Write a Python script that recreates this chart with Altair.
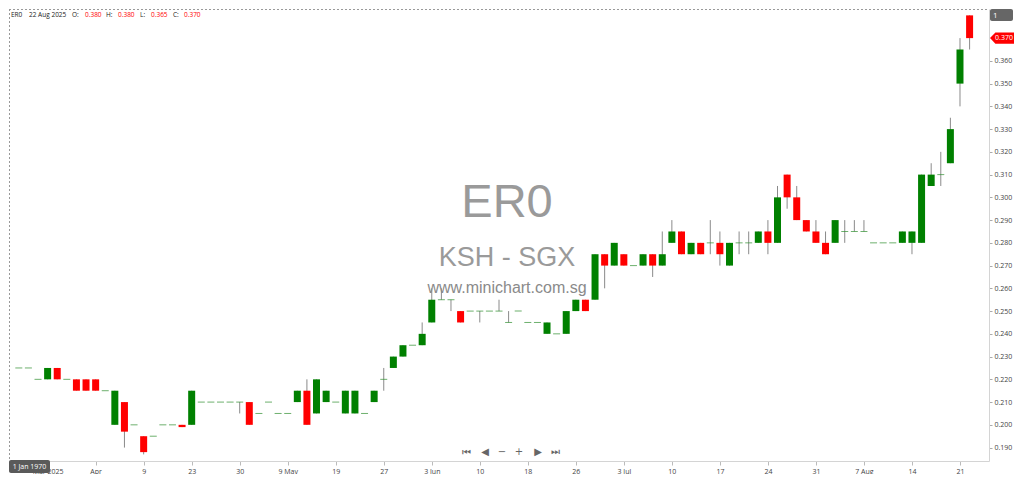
import json
import altair as alt
import pandas as pd

symbol = "ER0"
exchange = "KSH - SGX"
site = "www.minichart.com.sg"
last_date = "22 Aug 2025"
crosshair_date = "1 Jan 1970"
panel_no = "1"

opens = [0.225, 0.225, 0.220, 0.220, 0.225, 0.220, 0.220, 0.220, 0.220, 0.215,
         0.200, 0.210, 0.200, 0.195, 0.195, 0.200, 0.200, 0.200, 0.200, 0.210,
         0.210, 0.210, 0.210, 0.210, 0.210, 0.205, 0.210, 0.205, 0.205, 0.210,
         0.215, 0.205, 0.210, 0.210, 0.205, 0.205, 0.205, 0.210, 0.220, 0.225,
         0.230, 0.235, 0.235, 0.245, 0.255, 0.255, 0.250, 0.250, 0.250, 0.250,
         0.250, 0.245, 0.250, 0.245, 0.245, 0.240, 0.240, 0.240, 0.250, 0.255,
         0.255, 0.275, 0.270, 0.275, 0.270, 0.270, 0.275, 0.270, 0.280, 0.285,
         0.275, 0.280, 0.280, 0.280, 0.270, 0.280, 0.280, 0.280, 0.285, 0.280,
         0.310, 0.300, 0.290, 0.285, 0.280, 0.280, 0.285, 0.285, 0.285, 0.280,
         0.280, 0.280, 0.280, 0.280, 0.280, 0.305, 0.310, 0.315, 0.350, 0.380]
highs = [0.225, 0.225, 0.220, 0.225, 0.225, 0.220, 0.220, 0.220, 0.220, 0.215,
         0.215, 0.210, 0.200, 0.195, 0.195, 0.200, 0.200, 0.200, 0.215, 0.210,
         0.210, 0.210, 0.210, 0.210, 0.210, 0.205, 0.210, 0.205, 0.205, 0.215,
         0.220, 0.220, 0.215, 0.210, 0.215, 0.215, 0.205, 0.215, 0.225, 0.230,
         0.235, 0.235, 0.245, 0.260, 0.260, 0.255, 0.250, 0.250, 0.250, 0.250,
         0.255, 0.250, 0.250, 0.245, 0.245, 0.245, 0.240, 0.250, 0.255, 0.255,
         0.275, 0.275, 0.280, 0.275, 0.270, 0.275, 0.275, 0.285, 0.290, 0.285,
         0.280, 0.280, 0.290, 0.285, 0.280, 0.285, 0.285, 0.285, 0.290, 0.305,
         0.310, 0.305, 0.290, 0.290, 0.285, 0.290, 0.290, 0.290, 0.290, 0.280,
         0.280, 0.280, 0.285, 0.285, 0.310, 0.315, 0.320, 0.335, 0.370, 0.380]
lows = [0.225, 0.225, 0.220, 0.220, 0.220, 0.220, 0.215, 0.215, 0.215, 0.215,
        0.200, 0.190, 0.200, 0.187, 0.195, 0.200, 0.200, 0.199, 0.200, 0.210,
        0.210, 0.210, 0.210, 0.205, 0.200, 0.205, 0.210, 0.205, 0.205, 0.210,
        0.200, 0.205, 0.210, 0.210, 0.205, 0.205, 0.205, 0.210, 0.215, 0.225,
        0.230, 0.235, 0.235, 0.245, 0.255, 0.250, 0.245, 0.250, 0.245, 0.250,
        0.250, 0.245, 0.250, 0.245, 0.245, 0.240, 0.240, 0.240, 0.250, 0.250,
        0.255, 0.260, 0.270, 0.270, 0.270, 0.270, 0.265, 0.270, 0.280, 0.275,
        0.275, 0.275, 0.275, 0.270, 0.270, 0.275, 0.275, 0.280, 0.275, 0.280,
        0.295, 0.290, 0.285, 0.280, 0.275, 0.280, 0.280, 0.285, 0.285, 0.280,
        0.280, 0.280, 0.280, 0.275, 0.280, 0.305, 0.305, 0.315, 0.340, 0.365]
closes = [0.225, 0.225, 0.220, 0.225, 0.220, 0.220, 0.215, 0.215, 0.215, 0.215,
          0.215, 0.197, 0.200, 0.188, 0.195, 0.200, 0.200, 0.199, 0.215, 0.210,
          0.210, 0.210, 0.210, 0.210, 0.200, 0.205, 0.210, 0.205, 0.205, 0.215,
          0.200, 0.220, 0.215, 0.210, 0.215, 0.215, 0.205, 0.215, 0.220, 0.230,
          0.235, 0.235, 0.240, 0.255, 0.255, 0.255, 0.245, 0.250, 0.250, 0.250,
          0.250, 0.245, 0.250, 0.245, 0.245, 0.245, 0.240, 0.250, 0.255, 0.250,
          0.275, 0.270, 0.280, 0.270, 0.270, 0.275, 0.270, 0.275, 0.285, 0.275,
          0.280, 0.275, 0.280, 0.275, 0.280, 0.280, 0.280, 0.285, 0.280, 0.300,
          0.300, 0.290, 0.285, 0.280, 0.275, 0.290, 0.285, 0.285, 0.285, 0.280,
          0.280, 0.280, 0.285, 0.285, 0.310, 0.310, 0.310, 0.330, 0.365, 0.370]

tick_idx = [3, 8, 13, 18, 23, 28, 33, 38, 43, 48,
            53, 58, 63, 68, 73, 78, 83, 88, 93, 98]
tick_labels = ["Mar 2025", "Apr", "9", "23", "30", "9 May", "19", "27", "3 Jun", "10",
               "18", "26", "3 Jul", "10", "17", "24", "31", "7 Aug", "14", "21"]
y_ticks = [0.19, 0.20, 0.21, 0.22, 0.23, 0.24, 0.25, 0.26, 0.27, 0.28,
           0.29, 0.30, 0.31, 0.32, 0.33, 0.34, 0.35, 0.36]

n = len(closes)
df = pd.DataFrame({"i": list(range(n)), "o": opens, "h": highs, "l": lows, "c": closes})
df["dir"] = ["up" if c > o else ("down" if c < o else "flat") for o, c in zip(opens, closes)]
body = df[df["dir"] != "flat"]
flat = df[df["dir"] == "flat"]
wick = df[df["h"] > df["l"]]
last = df.tail(1)

W, H = 980, 452
GREEN = "#008000"
RED = "#ff0000"
FONT = "Open Sans"

xscale = alt.Scale(domain=[-0.5, n + 0.5], nice=False, zero=False)
yscale = alt.Scale(domain=[0.1841, 0.3828], nice=False, zero=False)
label_expr = f"{json.dumps(tick_labels)}[indexof({json.dumps(tick_idx)}, datum.value)]"
xaxis = alt.Axis(values=tick_idx, labelExpr=label_expr, title=None, grid=False,
                 tickSize=4, tickColor="#bbbbbb", domainColor="#d4d4d4",
                 labelFontSize=7, labelColor="#444444", labelFont=FONT,
                 labelPadding=2, labelOverlap=False, labelFlush=False)
yaxis = alt.Axis(orient="right", values=y_ticks, format=".3f", title=None, grid=False,
                 tickSize=3, tickColor="#aaaaaa", domainColor="#d4d4d4",
                 labelFontSize=7, labelColor="#444444", labelFont=FONT,
                 labelPadding=2, labelFlush=False, labelOverlap=False)


def X():
    return alt.X("i:Q", scale=xscale, axis=xaxis)


def Yf(field):
    return alt.Y(f"{field}:Q", scale=yscale, axis=yaxis)


def one():
    return pd.DataFrame({"k": [0]})


def txt(text, x, y, size, color, align="left", baseline="middle", font=FONT, weight="normal"):
    return alt.Chart(pd.DataFrame({"t": [text]})).mark_text(
        align=align, baseline=baseline, fontSize=size, color=color, font=font,
        fontWeight=weight
    ).encode(x=alt.value(x), y=alt.value(y), text="t:N")


border_top = alt.Chart(one()).mark_rule(color="#999999", strokeDash=[2, 2], strokeWidth=1).encode(
    x=alt.value(0), x2=alt.value(W), y=alt.value(0.5))
border_left = alt.Chart(one()).mark_rule(color="#999999", strokeDash=[2, 2], strokeWidth=1).encode(
    x=alt.value(0.5), y=alt.value(0), y2=alt.value(H))

wm_sym = txt(symbol, W / 2 + 8, 208, 47, "#9a9a9a", align="center", baseline="alphabetic", font="Liberation Sans")
wm_ex = txt(exchange, W / 2 + 8, 257, 27, "#9a9a9a", align="center", baseline="alphabetic", font="Liberation Sans")
wm_site = txt(site, W / 2 + 8, 284, 16, "#8a8a8a", align="center", baseline="alphabetic", font="Liberation Sans")

wicks = alt.Chart(wick).mark_rule(color="#8a8a8a", strokeWidth=1).encode(
    x=X(), y=Yf("l"), y2="h:Q")
bodies = alt.Chart(body).mark_bar(size=7).encode(
    x=X(), y=Yf("o"), y2="c:Q",
    color=alt.Color("dir:N", scale=alt.Scale(domain=["up", "down"], range=[GREEN, RED]), legend=None))
flats = alt.Chart(flat).mark_tick(orient="horizontal", size=7, thickness=1, color="#2f8f2f").encode(
    x=X(), y=Yf("c"))

nav_syms = ["⏮", "◀", "−", "+", "▶", "⏭"]
nav_x = [457, 476, 493, 510, 529, 546]
nav = [txt(s, xx, 443, 10, "#666666", align="center", font="DejaVu Sans") for s, xx in zip(nav_syms, nav_x)]

hx = [2, 20, 63, 76, 97, 109, 131, 142, 164, 175]
htexts = [symbol, last_date, "O:", f"{opens[-1]:.3f}", "H:", f"{highs[-1]:.3f}",
          "L:", f"{lows[-1]:.3f}", "C:", f"{closes[-1]:.3f}"]
hcolors = ["#222222", "#222222", "#222222", RED, "#222222", RED, "#222222", RED, "#222222", RED]
header = [txt(t, xx, 6, 6.5, col) for t, xx, col in zip(htexts, hx, hcolors)]

box1 = alt.Chart(one()).mark_rect(color="#666666", cornerRadius=2).encode(
    x=alt.value(W + 1), x2=alt.value(W + 24), y=alt.value(0), y2=alt.value(12))
box1_t = txt(panel_no, W + 4, 6.5, 8, "white")
box2 = alt.Chart(one()).mark_rect(color="#5a5a5a", cornerRadius=2).encode(
    x=alt.value(0), x2=alt.value(41), y=alt.value(H - 1), y2=alt.value(H + 12))
box2_t = txt(crosshair_date, 20.5, H + 5.5, 7, "white", align="center")

tag_path = "M -1 0 L -0.55 -0.46 L 1 -0.46 L 1 0.46 L -0.55 0.46 Z"
tag = alt.Chart(last).mark_point(shape=tag_path, size=576, filled=True, color=RED,
                                 opacity=1, strokeWidth=0).encode(
    x=alt.value(W + 13), y=Yf("c"))
tag_t = alt.Chart(last).mark_text(fontSize=7, color="white", font=FONT, align="center").encode(
    x=alt.value(W + 15), y=Yf("c"), text=alt.Text("c:Q", format=".3f"))

chart = alt.layer(
    border_top, border_left, wm_sym, wm_ex, wm_site,
    wicks, bodies, flats, *nav, *header, box1, box1_t, box2, box2_t, tag, tag_t
).properties(
    width=W, height=H, padding={"left": 0, "right": 0, "top": 0, "bottom": 0},
    background="white"
).configure_view(stroke=None)

chart.save("out.html", embed_options={"renderer": "svg", "actions": False})
